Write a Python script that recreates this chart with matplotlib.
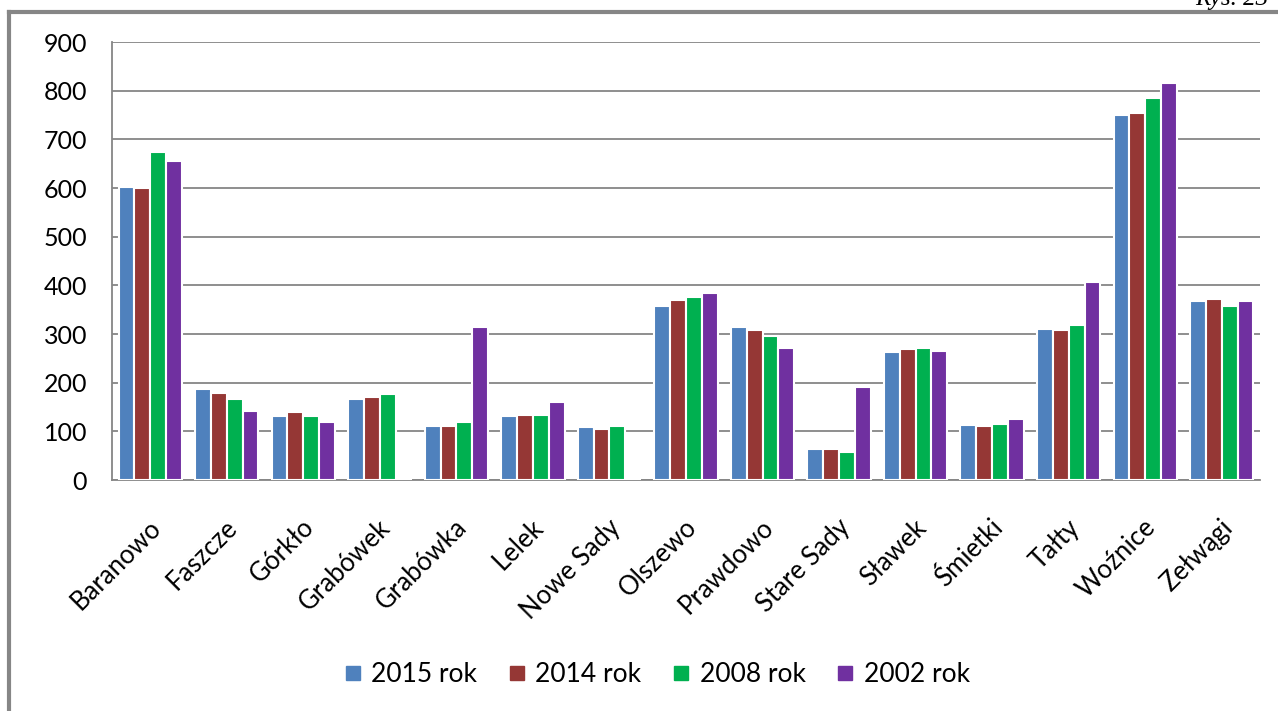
import numpy as np
import matplotlib.pyplot as plt
from matplotlib.lines import Line2D
from matplotlib.transforms import ScaledTranslation

# Data
villages = ['Baranowo', 'Faszcze', 'Górkło', 'Grabówek', 'Grabówka', 'Lelek',
            'Nowe Sady', 'Olszewo', 'Prawdowo', 'Stare Sady', 'Sławek',
            'Śmietki', 'Tałty', 'Woźnice', 'Zełwągi']
years = ['2015 rok', '2014 rok', '2008 rok', '2002 rok']
v2015 = [603, 186, 132, 167, 110, 131, 108, 358, 315, 64, 263, 113, 310, 750, 368]
v2014 = [600, 178, 139, 170, 110, 133, 104, 370, 309, 64, 269, 111, 308, 755, 372]
v2008 = [673, 167, 132, 176, 119, 133, 110, 376, 296, 58, 271, 115, 318, 785, 358]
v2002 = [655, 141, 120, 0, 315, 160, 0, 384, 272, 191, 265, 125, 407, 815, 368]

colors = ['#4F81BD', '#953735', '#00B050', '#7030A0']
grid_col = '#868686'

plt.rcParams['font.family'] = ['Lato', 'DejaVu Sans']

fig = plt.figure(figsize=(12.78, 7.11), dpi=100)
ax = fig.add_axes([112 / 1278, 231 / 711, 1148 / 1278, 438 / 711])

x = np.arange(len(villages))
w = 0.207
series = [v2015, v2014, v2008, v2002]
for i, (vals, c) in enumerate(zip(series, colors)):
    ax.bar(x + (i - 1.5) * w, vals, w, color=c, edgecolor='white',
           linewidth=1.5, zorder=3, label=years[i])

ax.set_xlim(-0.5, len(villages) - 0.5)
ax.set_ylim(0, 900)
ax.set_yticks(range(0, 901, 100))
ax.yaxis.grid(True, color=grid_col, linewidth=1.3)
ax.set_axisbelow(True)
for s in ['top', 'right']:
    ax.spines[s].set_visible(False)
for s in ['left', 'bottom']:
    ax.spines[s].set_color(grid_col)
    ax.spines[s].set_linewidth(1.3)

ax.tick_params(axis='y', length=0, pad=18, labelsize=18)
ax.tick_params(axis='x', length=0, pad=12, labelsize=18.5)
ax.set_xticks(x)
ax.set_xticklabels(villages, rotation=45, ha='right', rotation_mode='anchor')
shift = ScaledTranslation(-2 / 100, -18 / 100, fig.dpi_scale_trans)
for lbl in ax.get_xticklabels():
    lbl.set_transform(lbl.get_transform() + shift)

handles = [Line2D([], [], marker='s', linestyle='none', markersize=10,
                  markerfacecolor=c, markeredgecolor=c) for c in colors]
fig.legend(handles, years, loc='center', bbox_to_anchor=(656 / 1278, 1 - 675 / 711),
           ncol=4, frameon=False, fontsize=19, handletextpad=0.3,
           columnspacing=1.1, handlelength=0.8)

# Outer frame (top and left edge)
fig.add_artist(Line2D([8.5 / 1278, 1], [1 - 12 / 711, 1 - 12 / 711],
                      transform=fig.transFigure, color=grid_col, linewidth=3))
fig.add_artist(Line2D([8.5 / 1278, 8.5 / 1278], [0, 1 - 12 / 711],
                      transform=fig.transFigure, color=grid_col, linewidth=3))
fig.text(1268 / 1278, 1 - 5 / 711, 'Rys. 23', ha='right', va='baseline',
         fontsize=18, family='Liberation Serif', style='italic')

fig.savefig('out.png', dpi=100)
